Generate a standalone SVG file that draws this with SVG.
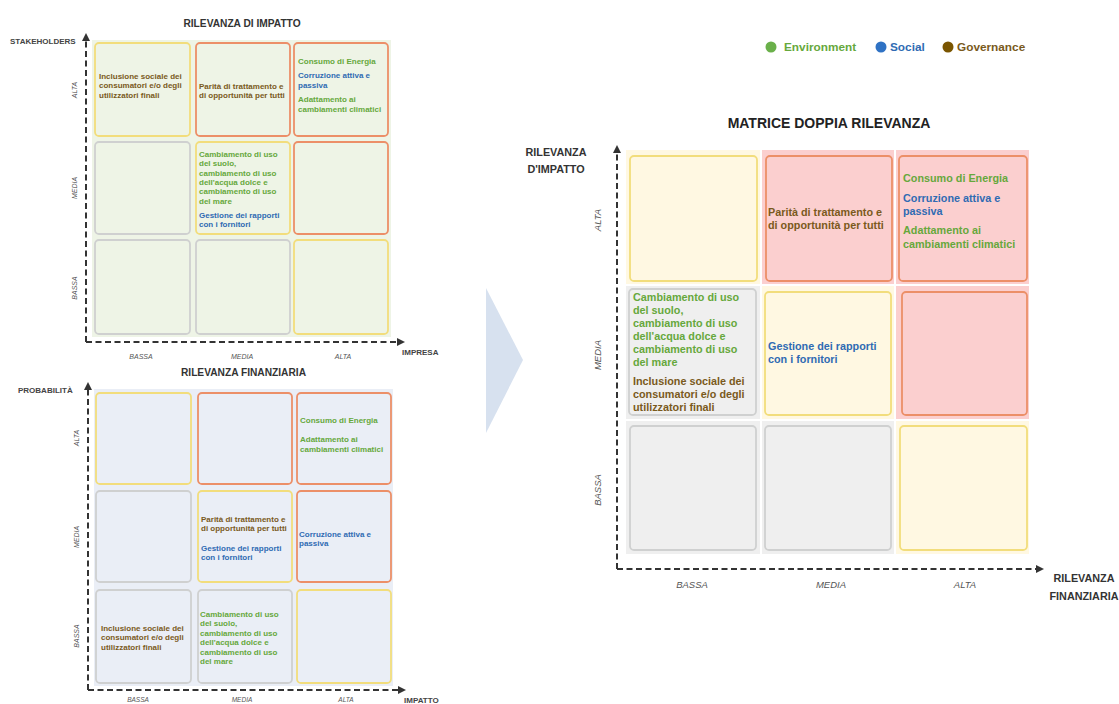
<svg xmlns="http://www.w3.org/2000/svg" width="1119" height="704" viewBox="0 0 1119 704">
<defs>
<style>
.f{font-family:"Liberation Sans",Arial,sans-serif}
.b{font-weight:bold}
.it{font-style:italic;fill:#555}
.env{fill:#66a83c}.soc{fill:#2f6bb3}.gov{fill:#7a5a1c}
.t8{font-size:8px}.t11{font-size:10.8px}
.ttl{font-size:10.2px;fill:#333;font-weight:bold}
.ax{font-size:8px;fill:#444;font-weight:bold}
.c{stroke-width:1.8;stroke-linejoin:round}
.cy{stroke:#f2dd7c}.co{stroke:#ec8f68}.cg{stroke:#cfd0d0}
.pg{fill:#eef4e6}.pb{fill:#eaeef6}
.by{fill:#fff8e2}.bp{fill:#fbcfcf}.bgr{fill:#efefef}
.dash{fill:none;stroke:#333;stroke-width:2;stroke-dasharray:6 3.5}
</style>
<marker id="ah" viewBox="0 0 10 10" refX="5" refY="5" markerWidth="4" markerHeight="4" orient="auto-start-reverse">
<path d="M0,0 L10,5 L0,10 Z" fill="#333"/>
</marker>
</defs>
<rect width="1119" height="704" fill="#ffffff"/>

<!-- Titles and legend -->
<text class="f ttl" x="242" y="26.5" text-anchor="middle">RILEVANZA DI IMPATTO</text>
<text class="f ttl" x="243.5" y="375.5" text-anchor="middle">RILEVANZA FINANZIARIA</text>
<text class="f b" x="829" y="128" text-anchor="middle" font-size="14" fill="#222">MATRICE DOPPIA RILEVANZA</text>
<g id="legend">
<circle cx="771" cy="47" r="5.5" fill="#6ab04a"/>
<text class="f b env" x="784" y="51" font-size="11.8">Environment</text>
<circle cx="881" cy="47" r="5.5" fill="#2f72c4"/>
<text class="f b soc" x="890" y="51" font-size="11.8">Social</text>
<circle cx="948" cy="47" r="5.5" fill="#7a5500"/>
<text class="f b gov" x="957" y="51" font-size="11.8">Governance</text>
</g>

<!-- Arrow between -->
<polygon id="chevron" points="486,288 523,360 486,433" fill="#d7e1ef"/>

<!-- Panels -->
<rect class="pg" x="92" y="40" width="299" height="297"/>
<rect class="pb" x="94" y="389" width="299" height="297"/>

<!-- Top-left matrix cells -->
<g id="tl-a1"><rect class="c cy pg" x="95" y="43" width="95" height="93" rx="4"/>
<text class="f b gov t8" x="99"><tspan x="99" y="79">Inclusione sociale dei</tspan><tspan x="99" y="88.3">consumatori e/o degli</tspan><tspan x="99" y="97.6">utilizzatori finali</tspan></text></g>
<g id="tl-a2"><rect class="c co pg" x="196" y="43" width="94" height="93" rx="4"/>
<text class="f b gov t8"><tspan x="199" y="89">Parità di trattamento e</tspan><tspan x="199" y="98.3">di opportunità per tutti</tspan></text></g>
<g id="tl-a3"><rect class="c co pg" x="294" y="43" width="94" height="93" rx="4"/>
<text class="f b env t8" x="298" y="64">Consumo di Energia</text>
<text class="f b soc t8"><tspan x="298" y="78">Corruzione attiva e</tspan><tspan x="298" y="87.5">passiva</tspan></text>
<text class="f b env t8"><tspan x="298" y="102">Adattamento ai</tspan><tspan x="298" y="111.5">cambiamenti climatici</tspan></text></g>
<g id="tl-m1"><rect class="c cg pg" x="95" y="142" width="95" height="92" rx="4"/></g>
<g id="tl-m2"><rect class="c cy pg" x="196" y="142" width="94" height="92" rx="4"/>
<text class="f b env t8"><tspan x="199" y="157">Cambiamento di uso</tspan><tspan x="199" y="166.3">del suolo,</tspan><tspan x="199" y="175.6">cambiamento di uso</tspan><tspan x="199" y="184.9">dell'acqua dolce e</tspan><tspan x="199" y="194.2">cambiamento di uso</tspan><tspan x="199" y="203.5">del mare</tspan></text>
<text class="f b soc t8"><tspan x="199" y="218">Gestione dei rapporti</tspan><tspan x="199" y="227.3">con i fornitori</tspan></text></g>
<g id="tl-m3"><rect class="c co pg" x="294" y="142" width="94" height="92" rx="4"/></g>
<g id="tl-b1"><rect class="c cg pg" x="95" y="240" width="95" height="94" rx="4"/></g>
<g id="tl-b2"><rect class="c cg pg" x="196" y="240" width="94" height="94" rx="4"/></g>
<g id="tl-b3"><rect class="c cy pg" x="294" y="240" width="94" height="94" rx="4"/></g>

<!-- Bottom-left matrix cells -->
<g id="bl-a1"><rect class="c cy pb" x="96" y="393" width="95" height="91" rx="4"/></g>
<g id="bl-a2"><rect class="c co pb" x="198" y="393" width="94" height="91" rx="4"/></g>
<g id="bl-a3"><rect class="c co pb" x="297" y="393" width="94" height="91" rx="4"/>
<text class="f b env t8" x="300" y="423">Consumo di Energia</text>
<text class="f b env t8"><tspan x="300" y="442">Adattamento ai</tspan><tspan x="300" y="451.5">cambiamenti climatici</tspan></text></g>
<g id="bl-m1"><rect class="c cg pb" x="96" y="491" width="95" height="91" rx="4"/></g>
<g id="bl-m2"><rect class="c cy pb" x="198" y="491" width="94" height="91" rx="4"/>
<text class="f b gov t8"><tspan x="201" y="522">Parità di trattamento e</tspan><tspan x="201" y="531.3">di opportunità per tutti</tspan></text>
<text class="f b soc t8"><tspan x="201" y="551">Gestione dei rapporti</tspan><tspan x="201" y="560.3">con i fornitori</tspan></text></g>
<g id="bl-m3"><rect class="c co pb" x="297" y="491" width="94" height="91" rx="4"/>
<text class="f b soc t8"><tspan x="299" y="537">Corruzione attiva e</tspan><tspan x="299" y="546.3">passiva</tspan></text></g>
<g id="bl-b1"><rect class="c cg pb" x="96" y="590" width="95" height="93" rx="4"/>
<text class="f b gov t8"><tspan x="101" y="631">Inclusione sociale dei</tspan><tspan x="101" y="640.3">consumatori e/o degli</tspan><tspan x="101" y="649.6">utilizzatori finali</tspan></text></g>
<g id="bl-b2"><rect class="c cg pb" x="198" y="590" width="94" height="93" rx="4"/>
<text class="f b env t8"><tspan x="200" y="617">Cambiamento di uso</tspan><tspan x="200" y="626.4">del suolo,</tspan><tspan x="200" y="635.8">cambiamento di uso</tspan><tspan x="200" y="645.2">dell'acqua dolce e</tspan><tspan x="200" y="654.6">cambiamento di uso</tspan><tspan x="200" y="664">del mare</tspan></text></g>
<g id="bl-b3"><rect class="c cy pb" x="297" y="590" width="94" height="93" rx="4"/></g>

<!-- Right matrix -->
<g id="r-a1"><rect class="by" x="626" y="150" width="134" height="134"/><rect class="c cy" fill="none" x="630" y="156" width="127" height="125" rx="4"/></g>
<g id="r-a2"><rect class="bp" x="762" y="150" width="132" height="134"/><rect class="c co" fill="none" x="766" y="156" width="126" height="125" rx="4"/>
<text class="f b gov t11"><tspan x="768" y="215.5">Parità di trattamento e</tspan><tspan x="768" y="229">di opportunità per tutti</tspan></text></g>
<g id="r-a3"><rect class="bp" x="896" y="150" width="133" height="134"/><rect class="c co" fill="none" x="899" y="156" width="128" height="125" rx="4"/>
<text class="f b env t11" x="903" y="182">Consumo di Energia</text>
<text class="f b soc t11"><tspan x="903" y="201.5">Corruzione attiva e</tspan><tspan x="903" y="214.5">passiva</tspan></text>
<text class="f b env t11"><tspan x="903" y="234">Adattamento ai</tspan><tspan x="903" y="247.5">cambiamenti climatici</tspan></text></g>
<g id="r-m1"><rect class="bgr" x="626" y="286" width="134" height="133"/><rect class="c cg" fill="none" x="629" y="289" width="127" height="126" rx="4"/>
<text class="f b env t11"><tspan x="633" y="301">Cambiamento di uso</tspan><tspan x="633" y="314">del suolo,</tspan><tspan x="633" y="327">cambiamento di uso</tspan><tspan x="633" y="339.5">dell'acqua dolce e</tspan><tspan x="633" y="352.5">cambiamento di uso</tspan><tspan x="633" y="365.5">del mare</tspan></text>
<text class="f b gov t11"><tspan x="633" y="385">Inclusione sociale dei</tspan><tspan x="633" y="398">consumatori e/o degli</tspan><tspan x="633" y="411">utilizzatori finali</tspan></text></g>
<g id="r-m2"><rect class="by" x="762" y="286" width="132" height="133"/><rect class="c cy" fill="none" x="765" y="292" width="126" height="123" rx="4"/>
<text class="f b soc t11"><tspan x="768" y="350">Gestione dei rapporti</tspan><tspan x="768" y="363">con i fornitori</tspan></text></g>
<g id="r-m3"><rect class="bp" x="896" y="286" width="133" height="133"/><rect class="c co" fill="none" x="902" y="292" width="125" height="123" rx="4"/></g>
<g id="r-b1"><rect class="bgr" x="626" y="421" width="134" height="133"/><rect class="c cg" fill="none" x="630" y="426" width="126" height="124" rx="4"/></g>
<g id="r-b2"><rect class="bgr" x="762" y="421" width="132" height="133"/><rect class="c cg" fill="none" x="765" y="426" width="126" height="124" rx="4"/></g>
<g id="r-b3"><rect class="by" x="896" y="421" width="133" height="133"/><rect class="c cy" fill="none" x="900" y="426" width="127" height="124" rx="4"/></g>

<!-- Axes (connectors) -->
<g id="connectors">
<path class="dash" d="M86,342 L86,37" marker-end="url(#ah)"/>
<path class="dash" d="M86,342 L401,342" marker-end="url(#ah)"/>
<path class="dash" d="M88,690 L88,386" marker-end="url(#ah)"/>
<path class="dash" d="M88,690 L402,690" marker-end="url(#ah)"/>
<path class="dash" d="M617,569 L617,149" marker-end="url(#ah)"/>
<path class="dash" d="M617,569 L1040,569" marker-end="url(#ah)"/>
</g>

<!-- Axis titles -->
<text class="f ax" x="10" y="44">STAKEHOLDERS</text>
<text class="f ax" x="402" y="355">IMPRESA</text>
<text class="f ax" x="18" y="393">PROBABILITÀ</text>
<text class="f ax" x="404" y="703">IMPATTO</text>
<text class="f b" font-size="10.8" fill="#333" text-anchor="middle"><tspan x="556" y="155.5">RILEVANZA</tspan><tspan x="556" y="173">D'IMPATTO</tspan></text>
<text class="f b" font-size="10.8" fill="#333" text-anchor="middle"><tspan x="1084" y="582">RILEVANZA</tspan><tspan x="1084" y="600">FINANZIARIA</tspan></text>

<!-- Axis level labels -->
<g class="f it" font-size="7" text-anchor="middle">
<text transform="translate(76.5,90) rotate(-90)">ALTA</text>
<text transform="translate(76.5,188) rotate(-90)">MEDIA</text>
<text transform="translate(76.5,288) rotate(-90)">BASSA</text>
<text x="141" y="359">BASSA</text><text x="242" y="359">MEDIA</text><text x="343" y="359">ALTA</text>
<text transform="translate(78.5,438) rotate(-90)">ALTA</text>
<text transform="translate(78.5,537) rotate(-90)">MEDIA</text>
<text transform="translate(78.5,636) rotate(-90)">BASSA</text>
<text x="138" y="702" font-size="6.5">BASSA</text><text x="242" y="702" font-size="6.5">MEDIA</text><text x="346" y="702" font-size="6.5">ALTA</text>
</g>
<g class="f it" font-size="9.5" text-anchor="middle">
<text transform="translate(600.5,220) rotate(-90)">ALTA</text>
<text transform="translate(600.5,355) rotate(-90)">MEDIA</text>
<text transform="translate(600.5,490) rotate(-90)">BASSA</text>
<text x="692" y="588">BASSA</text><text x="831" y="588">MEDIA</text><text x="965" y="588">ALTA</text>
</g>
</svg>
